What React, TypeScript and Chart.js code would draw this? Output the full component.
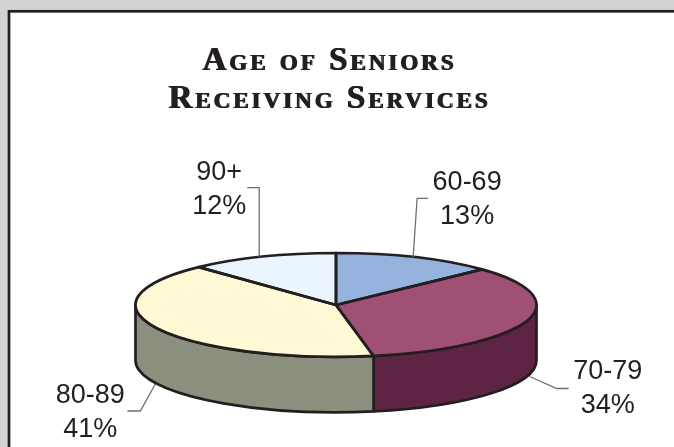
import React, { useEffect, useRef } from "react";
import { Chart, registerables } from "chart.js";

Chart.register(...registerables);

const titleLines = ["Age of Seniors", "Receiving Services"];
const categories = ["60-69", "70-79", "80-89", "90+"];
const shares = [13, 34, 41, 12];
const topColors = ["#95b3dd", "#a04f75", "#fff9d6", "#eaf5fe"];
const sideColors = ["#95b3dd", "#5e2443", "#8c8f7d", "#eaf5fe"];

const INK = "#231f20";
const LEADER = "#6d6e71";
const PAGE = "#d1d3d4";
const SQUASH = 0.259;
const DEPTH = 55.5;
const RADIUS = 200.5;

// Rim-point shift, then label block centre and leader elbow path relative to that point.
const calloutLayout = [
  { shift: -2.5, label: [54, -57.5], elbow: [[4, -59], [15, -59]], lower: false },
  { shift: 3, label: [78, 12.5], elbow: [[27, 12], [39, 12]], lower: true },
  { shift: -2, label: [-65, 28.5], elbow: [[-15, 27], [-28, 27]], lower: true },
  { shift: -3, label: [-40, -67], elbow: [[0, -69], [-12, -69]], lower: false },
];

const pie3d = {
  id: "pie3d",
  beforeDraw(chart: any) {
    const { ctx, width, height } = chart;
    ctx.save();
    ctx.fillStyle = PAGE;
    ctx.fillRect(0, 0, width, height);
    ctx.fillStyle = "#ffffff";
    ctx.fillRect(9, 11.3, width, height);
    ctx.strokeStyle = INK;
    ctx.lineWidth = 2.7;
    ctx.strokeRect(9, 11.3, width + 10, height + 10);
    ctx.restore();
    // Heavier, wider title lettering: picked up by the title box, which is drawn next.
    ctx.save();
    ctx.translate(-7, 0);
    ctx.letterSpacing = "3px";
    ctx.shadowColor = INK;
    ctx.shadowBlur = 0;
    ctx.shadowOffsetX = 1.3;
    ctx.shadowOffsetY = 0;
  },
  beforeDatasetsDraw(chart: any) {
    const { ctx } = chart;
    ctx.restore();
    const arcs = chart.getDatasetMeta(0).data;
    ctx.save();
    ctx.lineWidth = 2.7;
    ctx.lineJoin = "round";
    ctx.strokeStyle = INK;
    arcs.forEach((arc: any, i: number) => {
      const a0 = Math.max(arc.startAngle, 0);
      const a1 = Math.min(arc.endAngle, Math.PI);
      if (a1 <= a0) return;
      const ry = arc.outerRadius * SQUASH;
      ctx.beginPath();
      ctx.ellipse(arc.x, arc.y + DEPTH, arc.outerRadius, ry, 0, a0, a1);
      ctx.ellipse(arc.x, arc.y, arc.outerRadius, ry, 0, a1, a0, true);
      ctx.closePath();
      ctx.fillStyle = sideColors[i];
      ctx.fill();
      ctx.stroke();
    });
    ctx.restore();
    const first = arcs[0];
    ctx.save();
    ctx.translate(first.x, first.y);
    ctx.scale(1, SQUASH);
    ctx.translate(-first.x, -first.y);
  },
  afterDatasetsDraw(chart: any) {
    const { ctx } = chart;
    ctx.restore();
    const arcs = chart.getDatasetMeta(0).data;
    ctx.save();
    ctx.lineWidth = 2.7;
    ctx.lineJoin = "round";
    ctx.strokeStyle = INK;
    arcs.forEach((arc: any) => {
      ctx.beginPath();
      ctx.moveTo(arc.x, arc.y);
      ctx.ellipse(arc.x, arc.y, arc.outerRadius, arc.outerRadius * SQUASH, 0, arc.startAngle, arc.endAngle);
      ctx.closePath();
      ctx.stroke();
    });
    ctx.restore();

    ctx.save();
    ctx.font = "27px 'Liberation Sans'";
    ctx.textAlign = "center";
    ctx.textBaseline = "middle";
    arcs.forEach((arc: any, i: number) => {
      const layout = calloutLayout[i];
      const mid = (arc.startAngle + arc.endAngle) / 2;
      const ax = arc.x + arc.outerRadius * Math.cos(mid) + layout.shift;
      const ay = arc.y + arc.outerRadius * SQUASH * Math.sin(mid) + (layout.lower ? DEPTH : 0);
      ctx.strokeStyle = LEADER;
      ctx.lineWidth = 1.3;
      ctx.beginPath();
      ctx.moveTo(ax, ay);
      layout.elbow.forEach(([dx, dy]) => ctx.lineTo(ax + dx, ay + dy));
      ctx.stroke();
      ctx.fillStyle = INK;
      const lx = ax + layout.label[0];
      const ly = ay + layout.label[1];
      ctx.fillText(categories[i], lx, ly - 17);
      ctx.fillText(`${shares[i]}%`, lx, ly + 17);
    });
    ctx.restore();
  },
};

export default function App() {
  const ref = useRef<HTMLCanvasElement>(null);
  useEffect(() => {
    document.body.style.margin = "0";
    const chart = new Chart(ref.current!, {
      type: "pie",
      data: {
        labels: categories,
        datasets: [
          {
            data: shares,
            backgroundColor: topColors,
            borderWidth: 0,
            radius: RADIUS,
            clip: false,
          } as any,
        ],
      },
      options: {
        responsive: false,
        animation: false,
        layout: { padding: { left: 0, right: 2, top: 0, bottom: 0 } },
        plugins: {
          legend: { display: false },
          tooltip: { enabled: false },
          title: {
            display: true,
            text: titleLines,
            color: INK,
            font: { family: "'Liberation Serif', serif", size: 33, weight: "small-caps 900" as any, lineHeight: 1.18 },
            padding: { top: 41.5, bottom: 43.5 },
          },
        },
      },
      plugins: [pie3d],
    });
    return () => chart.destroy();
  }, []);
  return (
    <div style={{ position: "absolute", left: 0, top: 0, width: 674, height: 447, overflow: "hidden" }}>
      <canvas ref={ref} width={674} height={447} style={{ display: "block" }} />
    </div>
  );
}
